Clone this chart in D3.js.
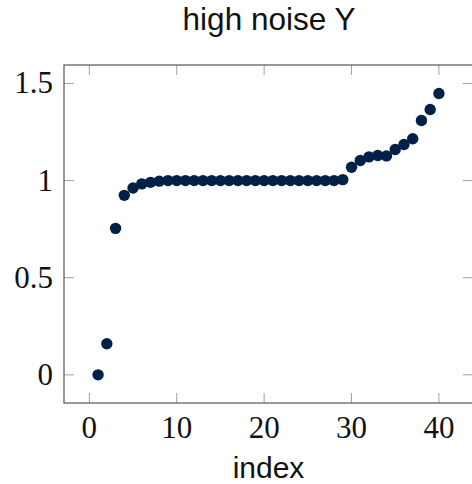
<!DOCTYPE html>
<html>
<head>
<meta charset="utf-8">
<script src="https://cdn.jsdelivr.net/npm/d3@7"></script>
<style>
  body { margin: 0; background: #fff; }
  svg { display: block; }
</style>
</head>
<body>
<script>
var width = 472,
    height = 484;

// data
var indexes = d3.range(1, 41);
var values = [
    0, 0.16, 0.754, 0.924, 0.962, 0.983, 0.991, 0.997, 1.0, 1.0,
    1.0, 1.0, 1.0, 1.0, 1.0, 1.0, 1.0, 1.0, 1.0, 1.0,
    1.0, 1.0, 1.0, 1.0, 1.0, 1.0, 1.0, 1.0, 1.005, 1.069,
    1.103, 1.122, 1.129, 1.127, 1.16, 1.186, 1.215, 1.309, 1.366, 1.448
];
var xTicks = [0, 10, 20, 30, 40];
var yTicks = [0, 0.5, 1, 1.5];
var yTickLabels = ["0", "0.5", "1", "1.5"];

var margin = { top: 65, right: -1, bottom: 81, left: 64 };
var plotW = width - margin.left - margin.right,
    plotH = height - margin.top - margin.bottom;

var svg = d3.select("body").append("svg")
    .attr("width", width)
    .attr("height", height);

var g = svg.append("g")
    .attr("transform", "translate(" + margin.left + "," + margin.top + ")");

// pgfplots style enlarged limits
var x = d3.scaleLinear().domain([-2.9, 43.9]).range([0, plotW]);
var y = d3.scaleLinear().domain([-0.145, 1.595]).range([plotH, 0]);

var tickLen = 10;
var tickColor = "#a0a0a0";

// ticks on all four sides, pointing inward
var tickG = g.append("g").attr("class", "ticks");
xTicks.forEach(function (t) {
    tickG.append("line")
        .attr("x1", x(t)).attr("x2", x(t))
        .attr("y1", plotH).attr("y2", plotH - tickLen)
        .attr("stroke", tickColor);
    tickG.append("line")
        .attr("x1", x(t)).attr("x2", x(t))
        .attr("y1", 0).attr("y2", tickLen)
        .attr("stroke", tickColor);
});
yTicks.forEach(function (t) {
    tickG.append("line")
        .attr("x1", 0).attr("x2", tickLen)
        .attr("y1", y(t)).attr("y2", y(t))
        .attr("stroke", tickColor);
    tickG.append("line")
        .attr("x1", plotW).attr("x2", plotW - tickLen)
        .attr("y1", y(t)).attr("y2", y(t))
        .attr("stroke", tickColor);
});

// frame
g.append("rect")
    .attr("x", 0).attr("y", 0)
    .attr("width", plotW).attr("height", plotH)
    .attr("fill", "none")
    .attr("stroke", "#555")
    .attr("stroke-width", 1.2);

// tick labels
g.append("g").selectAll("text")
    .data(xTicks)
    .enter()
    .append("text")
    .attr("x", function (d) { return x(d); })
    .attr("y", plotH + 35)
    .attr("text-anchor", "middle")
    .style("font-family", "'Liberation Serif', 'DejaVu Serif', serif")
    .style("font-size", "31px")
    .style("fill", "#111")
    .text(function (d) { return d; });

g.append("g").selectAll("text")
    .data(yTicks)
    .enter()
    .append("text")
    .attr("x", -11)
    .attr("y", function (d) { return y(d) + 10; })
    .attr("text-anchor", "end")
    .style("font-family", "'Liberation Serif', 'DejaVu Serif', serif")
    .style("font-size", "31px")
    .style("fill", "#111")
    .text(function (d, i) { return yTickLabels[i]; });

// points
g.append("g").selectAll("circle")
    .data(values)
    .enter()
    .append("circle")
    .attr("cx", function (d, i) { return x(indexes[i]); })
    .attr("cy", function (d) { return y(d); })
    .attr("r", 5.7)
    .style("fill", "#002147");

// title and axis label
svg.append("text")
    .attr("x", 269)
    .attr("y", 30)
    .attr("text-anchor", "middle")
    .style("font-family", "'Liberation Sans', Arial, sans-serif")
    .style("font-size", "31.5px")
    .style("fill", "#111")
    .text("high noise Y");

svg.append("text")
    .attr("x", 268.5)
    .attr("y", 478)
    .attr("text-anchor", "middle")
    .style("font-family", "'Liberation Sans', Arial, sans-serif")
    .style("font-size", "30px")
    .style("fill", "#111")
    .text("index");
</script>
</body>
</html>
